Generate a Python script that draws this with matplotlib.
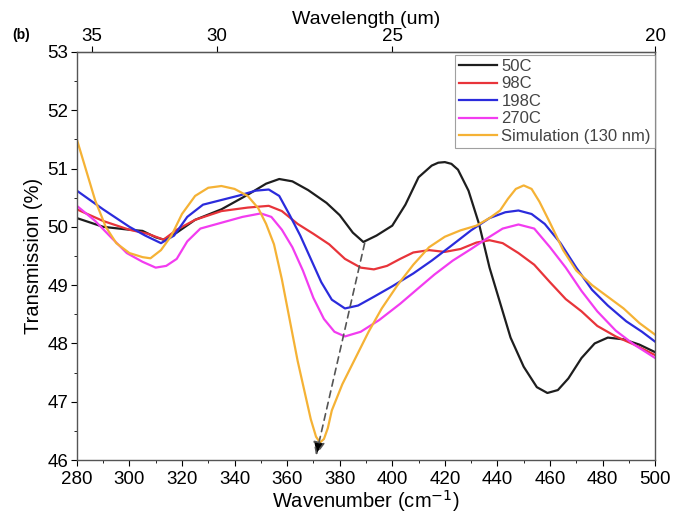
import numpy as np
import matplotlib
matplotlib.use("Agg")
import matplotlib.pyplot as plt
from matplotlib.ticker import MultipleLocator

plt.rcParams['font.family'] = ['Liberation Sans', 'DejaVu Sans']

# data (wavenumber cm^-1, transmission %)
x_50 = [280, 290, 300, 305, 310, 313, 318, 325, 335, 345, 352, 357, 362, 368, 375, 380, 385, 389,
        394, 400, 405, 410, 415, 417.5, 420, 422.5, 425, 429, 433, 437, 441, 445, 450, 455, 459,
        463, 467, 472, 477, 482, 488, 494, 500]
y_50 = [50.15, 50.0, 49.95, 49.93, 49.82, 49.78, 49.9, 50.12, 50.3, 50.55, 50.74, 50.82, 50.78,
        50.63, 50.41, 50.2, 49.9, 49.74, 49.85, 50.02, 50.38, 50.85, 51.05, 51.1, 51.11, 51.08,
        50.98, 50.62, 50.05, 49.3, 48.7, 48.1, 47.6, 47.25, 47.15, 47.2, 47.4, 47.75, 48.0, 48.1,
        48.07, 47.98, 47.85]

x_98 = [280, 290, 300, 307, 313, 318, 325, 335, 345, 353, 358, 364, 370, 376, 382, 388, 393, 398,
        403, 408, 414, 420, 426, 432, 437, 442, 448, 454, 460, 466, 472, 478, 485, 492, 500]
y_98 = [50.3, 50.1, 49.95, 49.88, 49.78, 49.95, 50.12, 50.27, 50.33, 50.36, 50.27, 50.05, 49.88,
        49.7, 49.45, 49.3, 49.27, 49.33, 49.45, 49.56, 49.6, 49.57, 49.62, 49.73, 49.77, 49.72,
        49.55, 49.35, 49.05, 48.76, 48.55, 48.3, 48.12, 47.98, 47.8]

x_198 = [280, 290, 300, 306, 312, 317, 322, 328, 335, 342, 348, 353, 357, 361, 365, 369, 373, 377,
         382, 387, 393, 400, 408, 415, 422, 430, 437, 443, 448, 453, 458, 464, 470, 476, 482, 489,
         495, 500]
y_198 = [50.62, 50.3, 50.0, 49.85, 49.72, 49.85, 50.17, 50.38, 50.46, 50.54, 50.62, 50.64, 50.53,
         50.2, 49.85, 49.45, 49.05, 48.75, 48.6, 48.65, 48.8, 48.98, 49.2, 49.42, 49.66, 49.94,
         50.15, 50.25, 50.28, 50.22, 50.05, 49.72, 49.3, 48.92, 48.65, 48.38, 48.2, 48.03]

x_270 = [280, 287, 293, 299, 305, 310, 314, 318, 322, 327, 335, 343, 350, 354, 358, 362, 366, 370,
         374, 378, 382, 388, 395, 403, 410, 416, 423, 430, 436, 442, 448, 454, 460, 466, 472, 478,
         485, 492, 500]
y_270 = [50.36, 50.1, 49.82, 49.55, 49.4, 49.3, 49.33, 49.45, 49.75, 49.97, 50.07, 50.17, 50.23,
         50.17, 49.95, 49.65, 49.25, 48.78, 48.42, 48.2, 48.12, 48.2, 48.4, 48.68, 48.95, 49.18,
         49.42, 49.62, 49.8, 49.97, 50.04, 49.97, 49.65, 49.3, 48.9, 48.55, 48.22, 47.98, 47.75]

x_sim = [280, 283, 287, 291, 295, 300, 305, 308, 312, 316, 320, 325, 330, 335, 340, 345, 349, 352,
         355, 358, 361, 364, 367, 369, 371, 372.5, 374, 375.5, 377, 381, 386, 391, 396, 402, 408,
         414, 420, 426, 432, 437, 441, 444, 447, 450, 453, 456, 460, 465, 470, 476, 482, 488, 494,
         500]
y_sim = [51.5, 51.05, 50.45, 50.0, 49.72, 49.55, 49.48, 49.46, 49.6, 49.85, 50.22, 50.53, 50.67,
         50.7, 50.65, 50.53, 50.32, 50.05, 49.7, 49.1, 48.4, 47.7, 47.1, 46.7, 46.4, 46.3, 46.36,
         46.55, 46.85, 47.3, 47.75, 48.2, 48.6, 49.0, 49.35, 49.65, 49.83, 49.94, 50.02, 50.15,
         50.28, 50.48, 50.65, 50.71, 50.65, 50.43, 50.07, 49.6, 49.25, 49.0, 48.8, 48.6, 48.35,
         48.15]

series = [
    ("50C", x_50, y_50, "#1e1e1e"),
    ("98C", x_98, y_98, "#e8343a"),
    ("198C", x_198, y_198, "#2b2bdc"),
    ("270C", x_270, y_270, "#f23cf0"),
    ("Simulation (130 nm)", x_sim, y_sim, "#f5b235"),
]

fig = plt.figure(figsize=(6.74, 5.14), dpi=100)
ax = fig.add_axes([0.114, 0.105, 0.858, 0.794])

for label, xs, ys, c in series:
    ax.plot(xs, ys, color=c, lw=1.6, label=label)

# dashed arrow following the shift of the dip
ax.annotate("", xy=(371, 46.08), xytext=(389.5, 49.72),
            arrowprops=dict(arrowstyle="-|>,head_length=0.8,head_width=0.35", color="#555555",
                            fc="black", ls=(0, (4, 3)), lw=1.2, shrinkA=0, shrinkB=0))

ax.set_xlim(280, 500)
ax.set_ylim(46, 53)
ax.xaxis.set_major_locator(MultipleLocator(20))
ax.xaxis.set_minor_locator(MultipleLocator(10))
ax.yaxis.set_major_locator(MultipleLocator(1))
ax.yaxis.set_minor_locator(MultipleLocator(0.5))
ax.tick_params(axis="both", which="major", labelsize=13.5, length=4, direction="out")
ax.tick_params(axis="both", which="minor", length=2.5, direction="out")
ax.tick_params(axis="x", pad=4)
ax.tick_params(axis="y", pad=2)
ax.tick_params(right=False)
ax.set_xlabel("Wavenumber (cm$^{-1}$)", fontsize=14.5, labelpad=0)
ax.set_ylabel("Transmission (%)", fontsize=14.5, labelpad=3)

top = ax.secondary_xaxis("top", functions=(lambda v: 1e4 / np.asarray(v, dtype=float),
                                           lambda v: 1e4 / np.asarray(v, dtype=float)))
top.set_xticks([35, 30, 25, 20])
top.set_xticklabels(["35", "30", "25", "20"])
top.tick_params(labelsize=13.5, length=4, pad=1, direction="out")
top.set_xlabel("Wavelength (um)", fontsize=14, labelpad=3)

for sp in ax.spines.values():
    sp.set_color("#555555")
    sp.set_linewidth(1.0)

leg = ax.legend(loc="upper right", bbox_to_anchor=(1.0, 0.993), fontsize=12, frameon=True,
                fancybox=False, edgecolor="#888888", handlelength=2.3, handletextpad=0.25,
                labelspacing=0.15, borderpad=0.25, borderaxespad=0)
leg.get_frame().set_linewidth(0.8)
for t in leg.get_texts():
    t.set_color("#444444")

fig.text(0.018, 0.925, "(b)", fontsize=10, fontweight="bold")

fig.savefig("out.png", dpi=100)
